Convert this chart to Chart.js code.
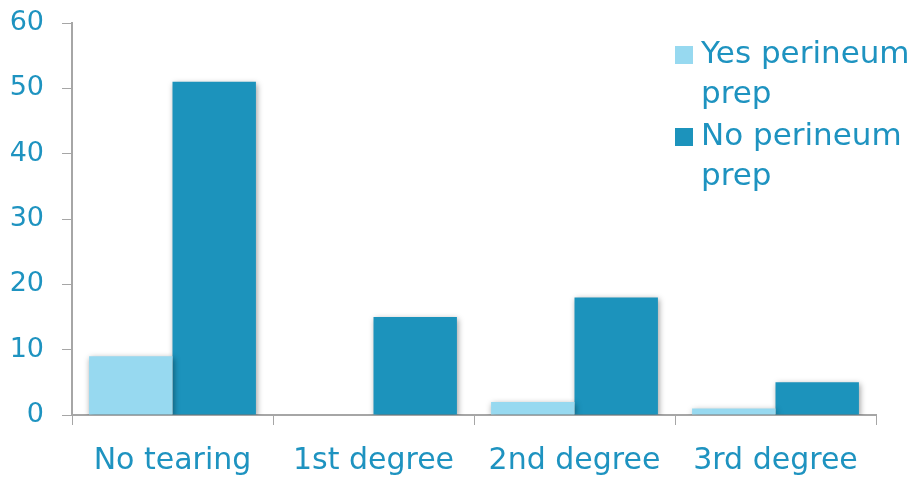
<!DOCTYPE html>
<html>
<head>
<meta charset="utf-8">
<script src="https://cdn.jsdelivr.net/npm/chart.js@4"></script>
<style>
  html, body { margin: 0; padding: 0; background: #fff; }
  #wrap { width: 910px; height: 477px; }
</style>
</head>
<body>
<div id="wrap"><canvas id="chart-tearing"></canvas></div>
<script>
// Perineal tearing by perineum preparation
const categories = ['No tearing', '1st degree', '2nd degree', '3rd degree'];
const seriesNames = [['Yes perineum', 'prep'], ['No perineum', 'prep']];
const yesPrep = [9, 0, 2, 1];
const noPrep = [51, 15, 18, 5];
const yTicks = [0, 10, 20, 30, 40, 50, 60];

const TEXT = '#1e93c0';
const AXIS = '#a6a6a6';
const COLORS = ['#97d9f0', '#1c93bc'];
const FONT = 'DejaVu Sans';

// soft drop shadow under the bars
const barShadow = {
    id: 'barShadow',
    beforeDatasetsDraw(chart) {
        const c = chart.ctx;
        c.save();
        c.shadowColor = 'rgba(0,0,0,0.4)';
        c.shadowBlur = 6;
        c.shadowOffsetX = 1;
        c.shadowOffsetY = 2;
    },
    afterDatasetsDraw(chart) {
        chart.ctx.restore();
    }
};

// legend drawn in the top-right corner, over the plot
const sideLegend = {
    id: 'sideLegend',
    afterDraw(chart) {
        const c = chart.ctx;
        const lineH = 40;
        let y = 55;
        c.save();
        c.font = '31px ' + FONT;
        c.textBaseline = 'middle';
        c.textAlign = 'left';
        chart.data.datasets.forEach(ds => {
            c.fillStyle = ds.backgroundColor;
            c.fillRect(675, y - 9, 18, 18);
            c.fillStyle = TEXT;
            ds.label.forEach((line, j) => c.fillText(line, 701, y + j * lineH));
            y += lineH * ds.label.length + 2;
        });
        c.restore();
    }
};

new Chart(document.getElementById('chart-tearing'), {
    type: 'bar',
    data: {
        labels: categories,
        datasets: [
            { label: seriesNames[0], data: yesPrep, backgroundColor: COLORS[0] },
            { label: seriesNames[1], data: noPrep, backgroundColor: COLORS[1] }
        ]
    },
    options: {
        responsive: true,
        maintainAspectRatio: false,
        animation: false,
        layout: { padding: { top: 23, right: 34, bottom: 0, left: 0 } },
        datasets: { bar: { categoryPercentage: 0.83, barPercentage: 1.0 } },
        plugins: { legend: { display: false }, tooltip: { enabled: false } },
        scales: {
            x: {
                grid: { drawOnChartArea: false, color: AXIS, tickLength: 10, offset: true },
                border: { color: AXIS, width: 2 },
                ticks: { color: TEXT, font: { family: FONT, size: 30 }, padding: 18 },
                afterFit: s => { s.height = 62; }
            },
            y: {
                min: 0,
                max: 60,
                afterBuildTicks: s => { s.ticks = yTicks.map(v => ({ value: v })); },
                grid: { drawOnChartArea: false, color: AXIS, tickLength: 10 },
                border: { color: AXIS, width: 2 },
                ticks: { color: TEXT, font: { family: FONT, size: 27 }, padding: 18 },
                afterFit: s => { s.width = 72; s.paddingTop = 0; s.paddingBottom = 0; }
            }
        }
    },
    plugins: [barShadow, sideLegend]
});
</script>
</body>
</html>
